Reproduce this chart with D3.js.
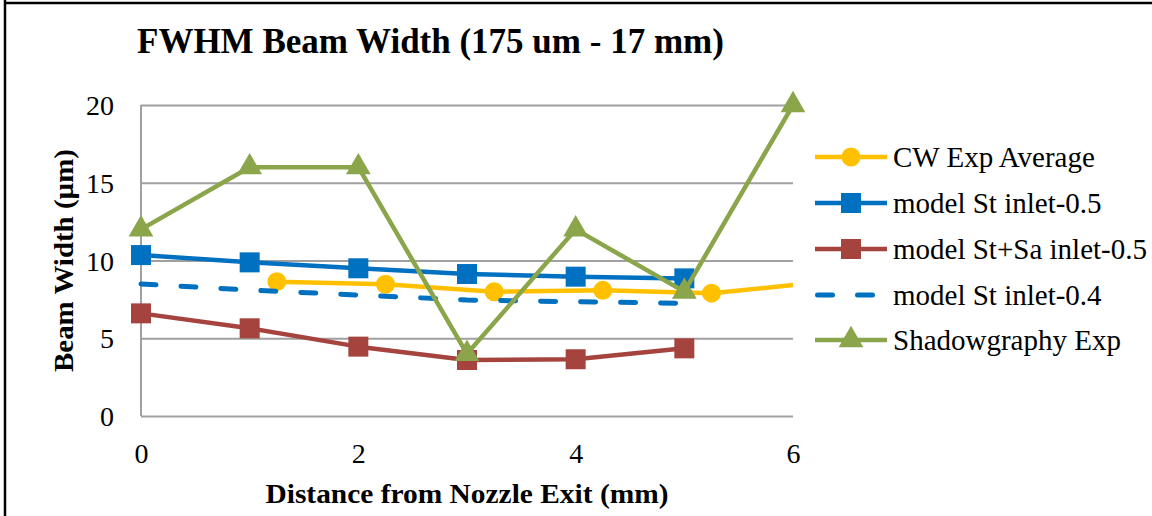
<!DOCTYPE html>
<html>
<head>
<meta charset="utf-8">
<script src="https://cdn.jsdelivr.net/npm/d3@7/dist/d3.min.js"></script>
<style>
  html, body { margin: 0; padding: 0; background: #fff; }
  svg { display: block; }
  text { font-family: "Liberation Serif", "Times New Roman", serif; fill: #000; }
</style>
</head>
<body>
<svg id="chart" width="1152" height="516"></svg>
<script>
// Beam width measurements and model results vs. distance from nozzle exit
const cwX = [1.25, 2.25, 3.25, 4.25, 5.25, 6];
const cwY = [8.64, 8.47, 7.99, 8.08, 7.9, 8.42];
const cwMarked = [true, true, true, true, true, false];

const modelX = [0, 1, 2, 3, 4, 5];
const stInlet05 = [10.35, 9.88, 9.5, 9.13, 8.96, 8.85];
const stSaInlet05 = [6.6, 5.64, 4.46, 3.6, 3.65, 4.35];
const stInlet04 = [8.49, 8.1, 7.78, 7.46, 7.35, 7.25];

const shadowX = [0, 1, 2, 3, 4, 5, 6];
const shadowY = [12, 16, 16, 4, 12, 8, 20];

const xTicks = [0, 2, 4, 6];
const yTicks = [0, 5, 10, 15, 20];

const seriesNames = ["CW Exp Average", "model St inlet-0.5", "model St+Sa inlet-0.5", "model St inlet-0.4", "Shadowgraphy Exp"];
const seriesColors = ["#FFC000", "#0070C0", "#A5443F", "#0070C0", "#8AA54A"];

const svg = d3.select("#chart");

// frame lines along left and top edges
svg.append("line").attr("x1", 5).attr("y1", 0).attr("x2", 5).attr("y2", 516)
  .attr("stroke", "#000").attr("stroke-width", 2.5);
svg.append("line").attr("x1", 4).attr("y1", 3).attr("x2", 1152).attr("y2", 3)
  .attr("stroke", "#000").attr("stroke-width", 2.5);

const x = d3.scaleLinear().domain([0, 6]).range([141, 793]);
const y = d3.scaleLinear().domain([0, 20]).range([416, 105]);

// horizontal gridlines
svg.append("g")
  .attr("transform", `translate(${x(0)},0)`)
  .call(d3.axisLeft(y).tickValues(yTicks).tickSize(-(x(6) - x(0))).tickFormat(""))
  .call(g => g.select(".domain").remove())
  .call(g => g.selectAll(".tick line").attr("stroke", "#A0A0A0").attr("stroke-width", 2));

// vertical axis line
svg.append("line").attr("x1", x(0)).attr("x2", x(0)).attr("y1", y(20)).attr("y2", y(0))
  .attr("stroke", "#A0A0A0").attr("stroke-width", 2);

// y tick labels
svg.append("g")
  .attr("transform", `translate(${x(0) - 24},0)`)
  .call(d3.axisLeft(y).tickValues(yTicks).tickSize(0).tickFormat(d3.format("d")))
  .call(g => g.select(".domain").remove())
  .call(g => g.selectAll("text").attr("font-size", 28)
    .attr("font-family", "Liberation Serif, Times New Roman, serif").attr("dy", "0.34em").attr("fill", "#000"));

// x tick labels
svg.append("g")
  .attr("transform", `translate(0,${y(0) + 24})`)
  .call(d3.axisBottom(x).tickValues(xTicks).tickSize(0).tickFormat(d3.format("d")))
  .call(g => g.select(".domain").remove())
  .call(g => g.selectAll("text").attr("font-size", 28)
    .attr("font-family", "Liberation Serif, Times New Roman, serif").attr("dy", "0.71em").attr("fill", "#000"));

// title and axis titles
svg.append("text").attr("x", 137).attr("y", 53)
  .attr("font-size", 35).attr("font-weight", "bold")
  .text("FWHM Beam Width (175 um - 17 mm)");
svg.append("text").attr("x", (x(0) + x(6)) / 2).attr("y", 503)
  .attr("text-anchor", "middle").attr("font-size", 28).attr("font-weight", "bold")
  .attr("textLength", 403).attr("lengthAdjust", "spacingAndGlyphs")
  .text("Distance from Nozzle Exit (mm)");
svg.append("text")
  .attr("transform", `translate(73,${(y(0) + y(20)) / 2}) rotate(-90)`)
  .attr("text-anchor", "middle").attr("font-size", 27).attr("font-weight", "bold")
  .attr("textLength", 223).attr("lengthAdjust", "spacingAndGlyphs")
  .text("Beam Width (µm)");

const line = d3.line().x(d => x(d[0])).y(d => y(d[1]));
const lw = 4.5;

function drawSeries(xs, ys, color, dash) {
  const pts = xs.map((v, i) => [v, ys[i]]);
  const p = svg.append("path").datum(pts).attr("d", line)
    .attr("fill", "none").attr("stroke", color).attr("stroke-width", dash ? 5 : lw)
    .attr("stroke-linejoin", "round");
  if (dash) p.attr("stroke-dasharray", "15,25").attr("stroke-linecap", "round");
  return pts;
}

const sqSym = d3.symbol().type(d3.symbolSquare).size(20 * 20);
const cirSym = d3.symbol().type(d3.symbolCircle).size(Math.PI * 9.5 * 9.5);
const triSym = d3.symbol().type(d3.symbolTriangle).size(265);

function drawMarkers(pts, sym, color, keep) {
  svg.append("g").selectAll("path").data(pts.filter((d, i) => !keep || keep[i])).join("path")
    .attr("transform", d => `translate(${x(d[0])},${y(d[1])})`)
    .attr("d", sym).attr("fill", color);
}

// CW Exp Average
drawMarkers(drawSeries(cwX, cwY, seriesColors[0]), cirSym, seriesColors[0], cwMarked);
// model St inlet-0.5
drawMarkers(drawSeries(modelX, stInlet05, seriesColors[1]), sqSym, seriesColors[1]);
// model St+Sa inlet-0.5
drawMarkers(drawSeries(modelX, stSaInlet05, seriesColors[2]), sqSym, seriesColors[2]);
// model St inlet-0.4 (dashed, no markers)
drawSeries(modelX, stInlet04, seriesColors[3], true);
// Shadowgraphy Exp
drawMarkers(drawSeries(shadowX, shadowY, seriesColors[4]), triSym, seriesColors[4]);

// legend
const legendRows = [157, 203, 249, 295, 340];
const symbols = [cirSym, sqSym, sqSym, null, triSym];
seriesNames.forEach((name, i) => {
  const g = svg.append("g").attr("transform", `translate(815,${legendRows[i]})`);
  const ln = g.append("line").attr("x1", 0).attr("x2", 72).attr("y1", 0).attr("y2", 0)
    .attr("stroke", seriesColors[i]).attr("stroke-width", i === 3 ? 5 : lw);
  if (i === 3) {
    ln.attr("x1", 2.5).attr("stroke-dasharray", "15,25").attr("stroke-linecap", "round");
  } else {
    g.append("path").attr("transform", "translate(36,0)").attr("d", symbols[i]).attr("fill", seriesColors[i]);
  }
  g.append("text").attr("x", 78).attr("y", 0).attr("dy", "0.35em")
    .attr("font-size", 29).text(name);
});
</script>
</body>
</html>
